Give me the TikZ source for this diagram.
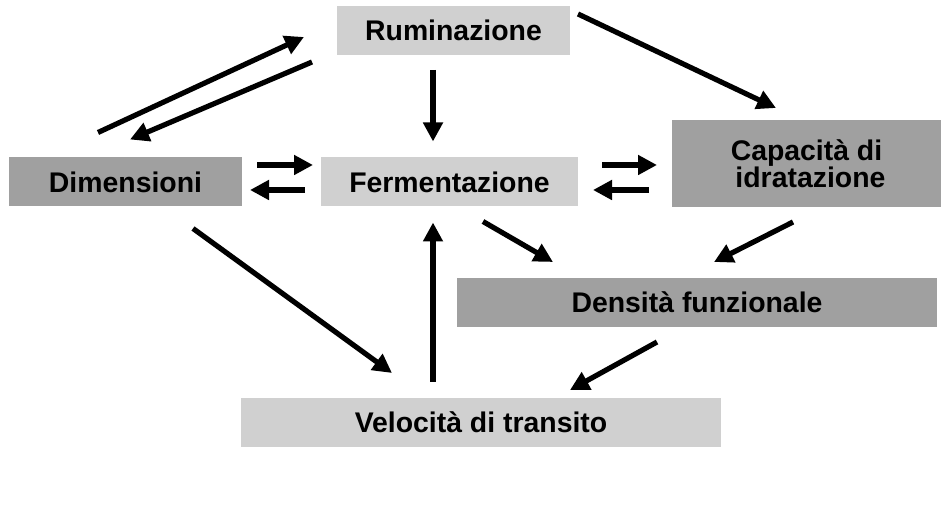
\documentclass[tikz,border=0pt]{standalone}
\usepackage{fontspec}
\setmainfont{Liberation Sans}
\usetikzlibrary{positioning}
\usetikzlibrary{arrows.meta}
\usetikzlibrary{calc}

\definecolor{boxlight}{RGB}{208,208,208}
\definecolor{boxdark}{RGB}{160,160,160}

\begin{document}
\begin{tikzpicture}[x=0.5pt,y=-0.5pt,>={Triangle[length=9.5pt,width=9.5pt]},
	font=\fontsize{14.2}{13.5}\selectfont\bfseries,
	box/.style={minimum height=24.5pt,outer sep=0pt,inner sep=0pt},
	light/.style={box,fill=boxlight},
	dark/.style={box,fill=boxdark},
	link/.style={->,line width=2.6pt},
	swap/.style={->,line width=3.2pt}]
	\useasboundingbox (0,0) rectangle (941,506);

	\node [light,minimum width=116.5pt] at (453.5,30.5) (rum) {Ruminazione};
	\node [dark,minimum width=116.5pt] at (125.5,182) (dim) {Dimensioni};
	\node [light,minimum width=128.5pt] at (449.5,182) (ferm) {Fermentazione};
	\node [dark,minimum width=134.5pt,minimum height=43.5pt,align=center] at (806.5,163.5) (cap) {Capacità di\\ \ idratazione};
	\node [dark,minimum width=240pt] at (697,302.5) (dens) {Densità funzionale};
	\node [light,minimum width=240pt] at (481,422.5) (vel) {Velocità di transito};

	% ruminazione
	\draw [link] ($(dim.north)+(-27.5,-25)$) -- ($(rum.west)+(-33,6.5)$);
	\draw [link] ($(rum.south west)+(-25,7)$) -- ($(dim.north)+(4.5,-18)$);
	\draw [link] ($(rum.north east)+(8,8)$) -- ($(cap.north)+(-30.5,-12)$);
	\draw [link] ($(rum.south)+(-20.5,15)$) -- ($(ferm.north)+(-16.5,-16)$);

	% fermentazione
	\draw [swap] ($(dim.east)+(15,-17)$) -- ($(ferm.west)+(-8,-17)$);
	\draw [swap] ($(ferm.west)+(-16,8)$) -- ($(dim.east)+(8,8)$);
	\draw [swap] ($(ferm.east)+(24,-17)$) -- ($(ferm.east)+(79,-17)$);
	\draw [swap] ($(cap.south west)+(-23,-17)$) -- ($(ferm.east)+(15,8)$);

	% densita e velocita
	\draw [link] ($(ferm.south)+(33.5,15)$) -- ($(dens.north west)+(96,-16)$);
	\draw [link] ($(cap.south)+(-13.5,15)$) -- ($(dens.north)+(17,-16)$);
	\draw [link] ($(dim.south)+(67.5,22)$) -- ($(vel.north west)+(151,-25)$);
	\draw [link] ($(vel.north)+(-48,-16)$) -- ($(ferm.south)+(-16.5,16)$);
	\draw [link] ($(dens.south)+(-40,15)$) -- ($(vel.north)+(89,-8)$);
\end{tikzpicture}
\end{document}
